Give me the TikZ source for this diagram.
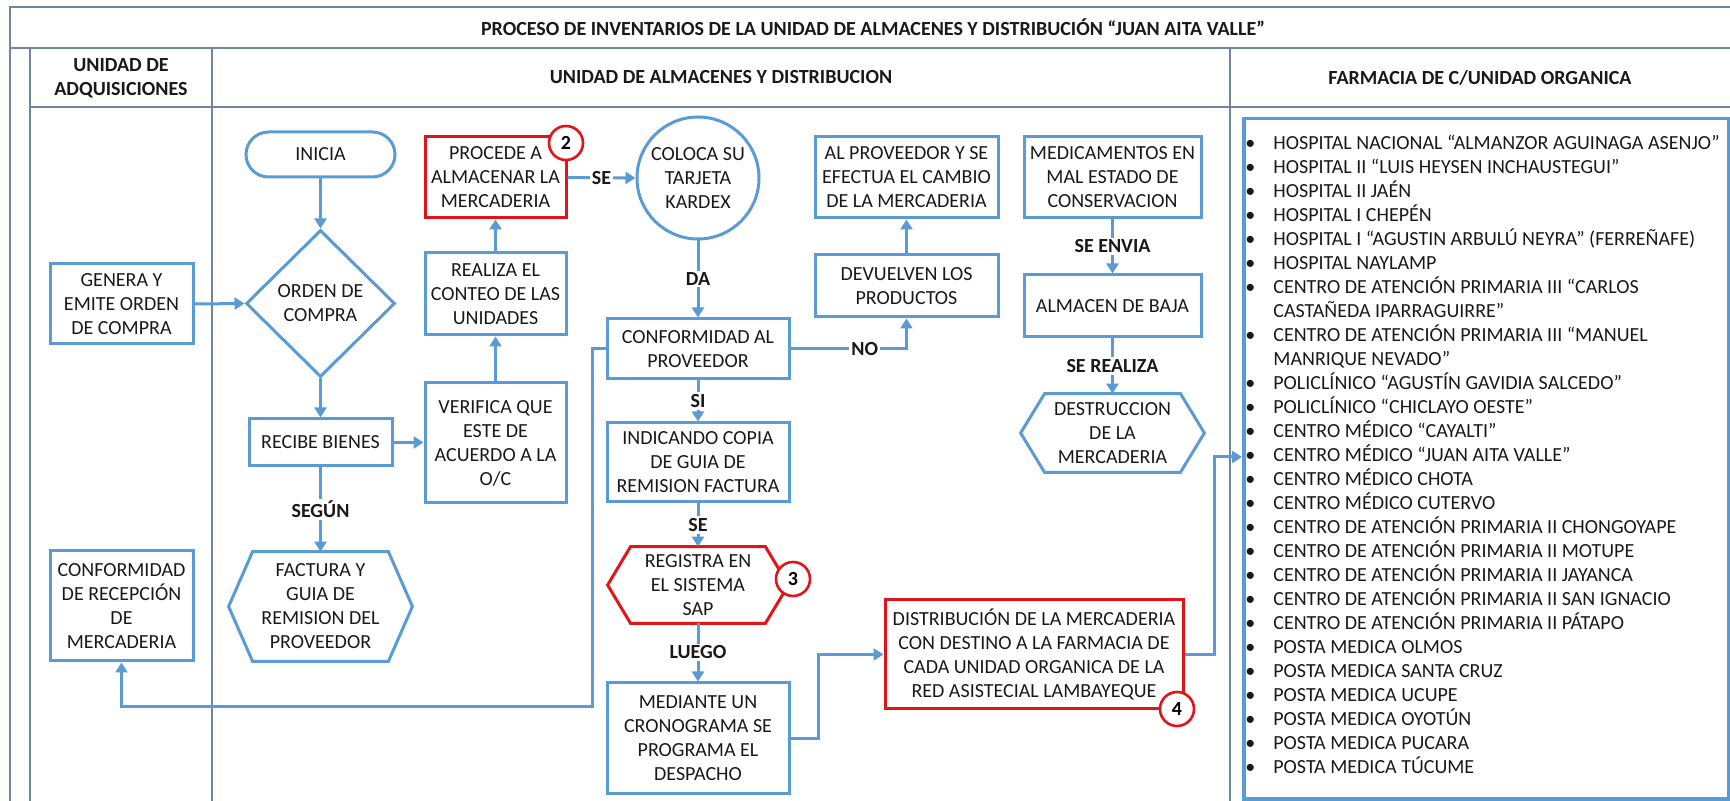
\documentclass[tikz,border=0pt]{standalone}
\usepackage{fontspec}
\setmainfont{Carlito}
\usetikzlibrary{arrows.meta,shapes.geometric,calc}
\definecolor{bl}{RGB}{91,155,213}
\definecolor{rd}{RGB}{225,20,25}
\definecolor{fr}{RGB}{112,134,160}
\definecolor{tx}{RGB}{25,25,25}
\begin{document}
\begin{tikzpicture}[x=0.5pt,y=-0.5pt,
  box/.style={draw=bl, line width=1.5pt, align=center, inner sep=0pt, font=\fontsize{10}{12}\selectfont, text=tx},
  redbox/.style={box, draw=rd},
  hexnode/.style={align=center, inner sep=0pt, font=\fontsize{10}{12}\selectfont, text=tx},
  hexline/.style={draw=bl, line width=1.5pt},
  con/.style={draw=bl, line width=1.5pt},
  arr/.style={con, -{Triangle[length=5pt,width=6pt]}},
  lbl/.style={fill=white, inner sep=1pt, font=\bfseries\fontsize{10}{12}\selectfont, text=tx},
  badge/.style={circle, draw=rd, line width=1.3pt, fill=white, minimum size=17pt, inner sep=0pt, font=\bfseries\fontsize{10}{12}\selectfont, text=black},
  frame/.style={draw=fr, line width=0.8pt},
  hdr/.style={font=\bfseries\fontsize{10}{12}\selectfont, align=center, text=tx}]

\useasboundingbox (0,0) rectangle (1730,801);

% table frame
\draw[frame] (1730,7) -- (10,7) -- (10,801);
\draw[frame] (10,48) -- (1730,48);
\draw[frame] (30,48) -- (30,801);
\draw[frame] (30,107) -- (1730,107);
\draw[frame] (212,48) -- (212,801);
\draw[frame] (1230,48) -- (1230,801);

\node[hdr] (title) at (873,27.5) {PROCESO DE INVENTARIOS DE LA UNIDAD DE ALMACENES Y DISTRIBUCIÓN “JUAN AITA VALLE”};
\node[hdr] (h1) at (121,78) {UNIDAD DE\\ADQUISICIONES};
\node[hdr] (h2) at (721,77.5) {UNIDAD DE ALMACENES Y DISTRIBUCION};
\node[hdr] (h3) at (1480,77.5) {FARMACIA DE C/UNIDAD ORGANICA};

% nodes
\node[box, rounded corners=11.25pt, minimum width=74.5pt, minimum height=22.5pt] (inicia) at (320.5,154.5) {INICIA};
\node[box, diamond, minimum width=74.5pt, minimum height=73.5pt] (orden) at (320.5,303.5) {ORDEN DE\\COMPRA};
\node[box, minimum width=71.5pt, minimum height=40pt] (gen) at (121.5,304) {GENERA Y\\EMITE ORDEN\\DE COMPRA};
\node[box, minimum width=71.5pt, minimum height=55pt] (confrec) at (121.5,606) {CONFORMIDAD\\DE RECEPCIÓN\\DE\\MERCADERIA};
\node[box, minimum width=71.5pt, minimum height=23.5pt] (recibe) at (320.5,442.5) {RECIBE BIENES};
\node[hexnode, minimum width=91.5pt, minimum height=54.5pt] (factura) at (320.5,606.5) {FACTURA Y\\GUIA DE\\REMISION DEL\\PROVEEDOR};
\node[redbox, minimum width=70.5pt, minimum height=40.5pt] (procede) at (495.5,177.5) {PROCEDE A\\ALMACENAR LA\\MERCADERIA};
\node[box, minimum width=70.5pt, minimum height=41pt] (realiza) at (495.5,294) {REALIZA EL\\CONTEO DE LAS\\UNIDADES};
\node[box, minimum width=70.5pt, minimum height=60pt] (verifica) at (495.5,443) {VERIFICA QUE\\ESTE DE\\ACUERDO A LA\\O/C};
\node[box, circle, minimum size=61pt] (kardex) at (698,178) {COLOCA SU\\TARJETA\\KARDEX};
\node[box, minimum width=91pt, minimum height=30pt] (confprov) at (698,349) {CONFORMIDAD AL\\PROVEEDOR};
\node[box, minimum width=91pt, minimum height=39.5pt] (indicando) at (698,462.5) {INDICANDO COPIA\\DE GUIA DE\\REMISION FACTURA};
\node[hexnode, minimum width=90pt, minimum height=38pt] (registra) at (698,585) {REGISTRA EN\\EL SISTEMA\\SAP};
\node[box, minimum width=91pt, minimum height=55pt] (mediante) at (698,738) {MEDIANTE UN\\CRONOGRAMA SE\\PROGRAMA EL\\DESPACHO};
\node[box, minimum width=91.5pt, minimum height=40.5pt] (alprov) at (906.5,177.5) {AL PROVEEDOR Y SE\\EFECTUA EL CAMBIO\\DE LA MERCADERIA};
\node[box, minimum width=91.5pt, minimum height=31pt] (devuelven) at (906.5,286) {DEVUELVEN LOS\\PRODUCTOS};
\node[box, minimum width=88.5pt, minimum height=40.5pt] (medic) at (1112.5,177.5) {MEDICAMENTOS EN\\MAL ESTADO DE\\CONSERVACION};
\node[box, minimum width=88.5pt, minimum height=31pt] (almacen) at (1112.5,306) {ALMACEN DE BAJA};
\node[hexnode, minimum width=91.5pt, minimum height=39pt] (destr) at (1112.5,433) {DESTRUCCION\\DE LA\\MERCADERIA};
\node[redbox, minimum width=149pt, minimum height=54.5pt] (distrib) at (1034,654.5) {DISTRIBUCIÓN DE LA MERCADERIA\\CON DESTINO A LA FARMACIA DE\\CADA UNIDAD ORGANICA DE LA\\RED ASISTECIAL LAMBAYEQUE};

% hexagon outlines
\draw[hexline] ($(factura.north west)+(24,0)$) -- ($(factura.north east)+(-24,0)$) -- (factura.east) -- ($(factura.south east)+(-24,0)$) -- ($(factura.south west)+(24,0)$) -- (factura.west) -- cycle;
\draw[hexline, draw=rd] ($(registra.north west)+(23,0)$) -- ($(registra.north east)+(-23,0)$) -- (registra.east) -- ($(registra.south east)+(-23,0)$) -- ($(registra.south west)+(23,0)$) -- (registra.west) -- cycle;
\draw[hexline] ($(destr.north west)+(24,0)$) -- ($(destr.north east)+(-24,0)$) -- (destr.east) -- ($(destr.south east)+(-24,0)$) -- ($(destr.south west)+(24,0)$) -- (destr.west) -- cycle;

% list box
\node[draw=bl, line width=1.75pt, minimum width=242.5pt, minimum height=340pt, anchor=north west, inner sep=0pt] (list) at (1242,117) {};
\node[anchor=north west, inner sep=0pt, font=\fontsize{10}{12}\selectfont, text=tx] (listtext) at (1245,132.6) {%
\begin{tabular}{@{}p{14pt}@{}l@{}}
\textbullet & HOSPITAL NACIONAL “ALMANZOR AGUINAGA ASENJO”\\
\textbullet & HOSPITAL II “LUIS HEYSEN INCHAUSTEGUI”\\
\textbullet & HOSPITAL II JAÉN\\
\textbullet & HOSPITAL I CHEPÉN\\
\textbullet & HOSPITAL I “AGUSTIN ARBULÚ NEYRA” (FERREÑAFE)\\
\textbullet & HOSPITAL NAYLAMP\\
\textbullet & CENTRO DE ATENCIÓN PRIMARIA III “CARLOS\\
 & CASTAÑEDA IPARRAGUIRRE”\\
\textbullet & CENTRO DE ATENCIÓN PRIMARIA III “MANUEL\\
 & MANRIQUE NEVADO”\\
\textbullet & POLICLÍNICO “AGUSTÍN GAVIDIA SALCEDO”\\
\textbullet & POLICLÍNICO “CHICLAYO OESTE”\\
\textbullet & CENTRO MÉDICO “CAYALTI”\\
\textbullet & CENTRO MÉDICO “JUAN AITA VALLE”\\
\textbullet & CENTRO MÉDICO CHOTA\\
\textbullet & CENTRO MÉDICO CUTERVO\\
\textbullet & CENTRO DE ATENCIÓN PRIMARIA II CHONGOYAPE\\
\textbullet & CENTRO DE ATENCIÓN PRIMARIA II MOTUPE\\
\textbullet & CENTRO DE ATENCIÓN PRIMARIA II JAYANCA\\
\textbullet & CENTRO DE ATENCIÓN PRIMARIA II SAN IGNACIO\\
\textbullet & CENTRO DE ATENCIÓN PRIMARIA II PÁTAPO\\
\textbullet & POSTA MEDICA OLMOS\\
\textbullet & POSTA MEDICA SANTA CRUZ\\
\textbullet & POSTA MEDICA UCUPE\\
\textbullet & POSTA MEDICA OYOTÚN\\
\textbullet & POSTA MEDICA PUCARA\\
\textbullet & POSTA MEDICA TÚCUME
\end{tabular}};

% connectors
\draw[arr] (inicia.south) -- (orden.north);
\draw[arr] (gen.east) -- (orden.west);
\draw[arr] (orden.south) -- (recibe.north);
\draw[arr] (recibe.east) -- (recibe.east -| verifica.west);
\draw[arr] (recibe.south) -- node[lbl]{SEGÚN} (factura.north);
\draw[arr] (verifica.north) -- (realiza.south);
\draw[arr] (realiza.north) -- (procede.south);
\draw[arr] (procede.east) -- node[lbl]{SE} (kardex.west);
\draw[arr] (kardex.south) -- node[lbl]{DA} (confprov.north);
\draw[arr] (confprov.south) -- node[lbl]{SI} (indicando.north);
\draw[arr] (indicando.south) -- node[lbl]{SE} (registra.north);
\draw[arr] (registra.south) -- node[lbl]{LUEGO} (mediante.north);
\draw[arr] (confprov.east) -| node[lbl,pos=0.32]{NO} (devuelven.south);
\draw[arr] (devuelven.north) -- (alprov.south);
\draw[arr] (medic.south) -- node[lbl]{SE ENVIA} (almacen.north);
\draw[arr] (almacen.south) -- node[lbl]{SE REALIZA} (destr.north);
\coordinate (c1) at (592,707);
\draw[arr] (confprov.west) -| (c1) -| (confrec.south);
\coordinate (c2) at (818,654.5);
\draw[arr] (mediante.east) -| (c2) -- (distrib.west);
\coordinate (c3) at (1214,457);
\draw[arr] (distrib.east) -| (c3) -- (c3 -| list.west);

% badges
\node[badge] (b2) at (566,143) {2};
\node[badge] (b3) at (793,579) {3};
\node[badge] (b4) at (1177,709) {4};
\end{tikzpicture}
\end{document}
